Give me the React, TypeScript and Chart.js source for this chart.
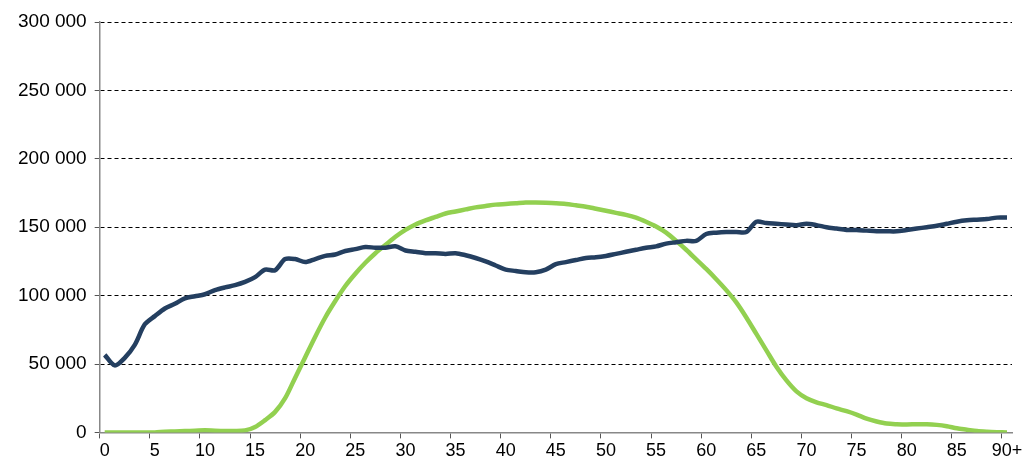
import React, { useEffect, useRef } from "react";
import Chart from "chart.js/auto";

const ages = Array.from({ length: 91 }, (_, i) => (i === 90 ? "90+" : String(i)));

const seriesDark = [
  56700, 49000, 54500, 64000, 79000, 85000, 90600, 94000, 98000, 99500,
  101000, 104000, 106000, 107600, 110000, 113500, 119000, 118600, 126700, 126700,
  124500, 126700, 129000, 130000, 132600, 134000, 135500, 135000, 135000, 136000,
  133000, 132000, 131000, 131000, 130500, 131000, 129500, 127500, 125000, 122000,
  119000, 118000, 117000, 117000, 119000, 123000, 124500, 126000, 127500, 128000,
  129000, 130500, 132000, 133500, 135000, 136000, 138000, 139000, 140000, 140000,
  145000, 146000, 146500, 146500, 146500, 154000, 153000, 152500, 152000, 151500,
  152500, 151500, 150000, 149000, 148000, 148000, 147500, 147000, 147000, 147000,
  148000, 149000, 150000, 151000, 152500, 154000, 155000, 155500, 156000, 157000,
  157000,
];

const seriesGreen = [
  0, 0, 0, 0, 0, 0, 500, 700, 1000, 1200,
  1500, 1200, 1000, 1000, 1500, 4000, 9000, 15000, 25000, 40000,
  55000, 70000, 84000, 96000, 107000, 116000, 124000, 131000, 137000, 143000,
  148000, 152000, 155000, 157500, 160000, 161500, 163000, 164500, 165500, 166500,
  167000, 167500, 168000, 168000, 167800, 167500, 167000, 166000, 165000, 163500,
  162000, 160500, 159000, 157000, 154000, 150500, 146000, 140000, 133500, 126500,
  119500, 112000, 104000, 95000, 84000, 72000, 60000, 48000, 38000, 30000,
  25000, 22000, 20000, 17500, 15500, 13000, 10000, 8000, 6500, 6000,
  5800, 6000, 6000, 5500, 4500, 3000, 2000, 1000, 500, 200,
  0,
];

const fmt = (v: number) => String(v).replace(/\B(?=(\d{3})+(?!\d))/g, " ");

export default function App() {
  const ref = useRef<HTMLCanvasElement | null>(null);

  useEffect(() => {
    if (!ref.current) return;
    const chart = new Chart(ref.current, {
      type: "line",
      data: {
        labels: ages,
        datasets: [
          {
            data: seriesDark,
            borderColor: "#243F60",
            borderWidth: 4.5,
            pointRadius: 0,
            tension: 0.3,
          },
          {
            data: seriesGreen,
            borderColor: "#92D050",
            borderWidth: 4.5,
            pointRadius: 0,
            tension: 0.3,
          },
        ],
      },
      options: {
        animation: false,
        responsive: false,
        layout: { padding: { left: 10, right: 16, top: 22, bottom: 2 } },
        plugins: { legend: { display: false }, tooltip: { enabled: false } },
        scales: {
          x: {
            offset: true,
            grid: {
              offset: true,
              drawOnChartArea: false,
              tickLength: 6,
              color: (c: any) => (c.index % 5 === 0 ? "#555" : "rgba(0,0,0,0)"),
            },
            border: { color: "#888", width: 1.5 },
            ticks: {
              autoSkip: false,
              maxRotation: 0,
              color: "#000",
              padding: 2,
              font: { family: "Liberation Sans", size: 18 },
              callback: (_v: any, i: number) => (i % 5 === 0 ? ages[i] : ""),
            },
          },
          y: {
            min: 0,
            max: 300000,
            ticks: {
              stepSize: 50000,
              color: "#000",
              padding: 8,
              font: { family: "Liberation Sans", size: 19 },
              callback: (v: any) => fmt(Number(v)),
            },
            grid: { color: "#000", tickLength: 5, tickColor: "#555" },
            border: { dash: [4, 3], color: "#888", width: 1.5 },
          },
        },
      },
    });
    return () => chart.destroy();
  }, []);

  return (
    <div style={{ position: "absolute", left: 0, top: 0, width: 1028, height: 466, background: "#fff" }}>
      <canvas ref={ref} width={1028} height={466} />
    </div>
  );
}
